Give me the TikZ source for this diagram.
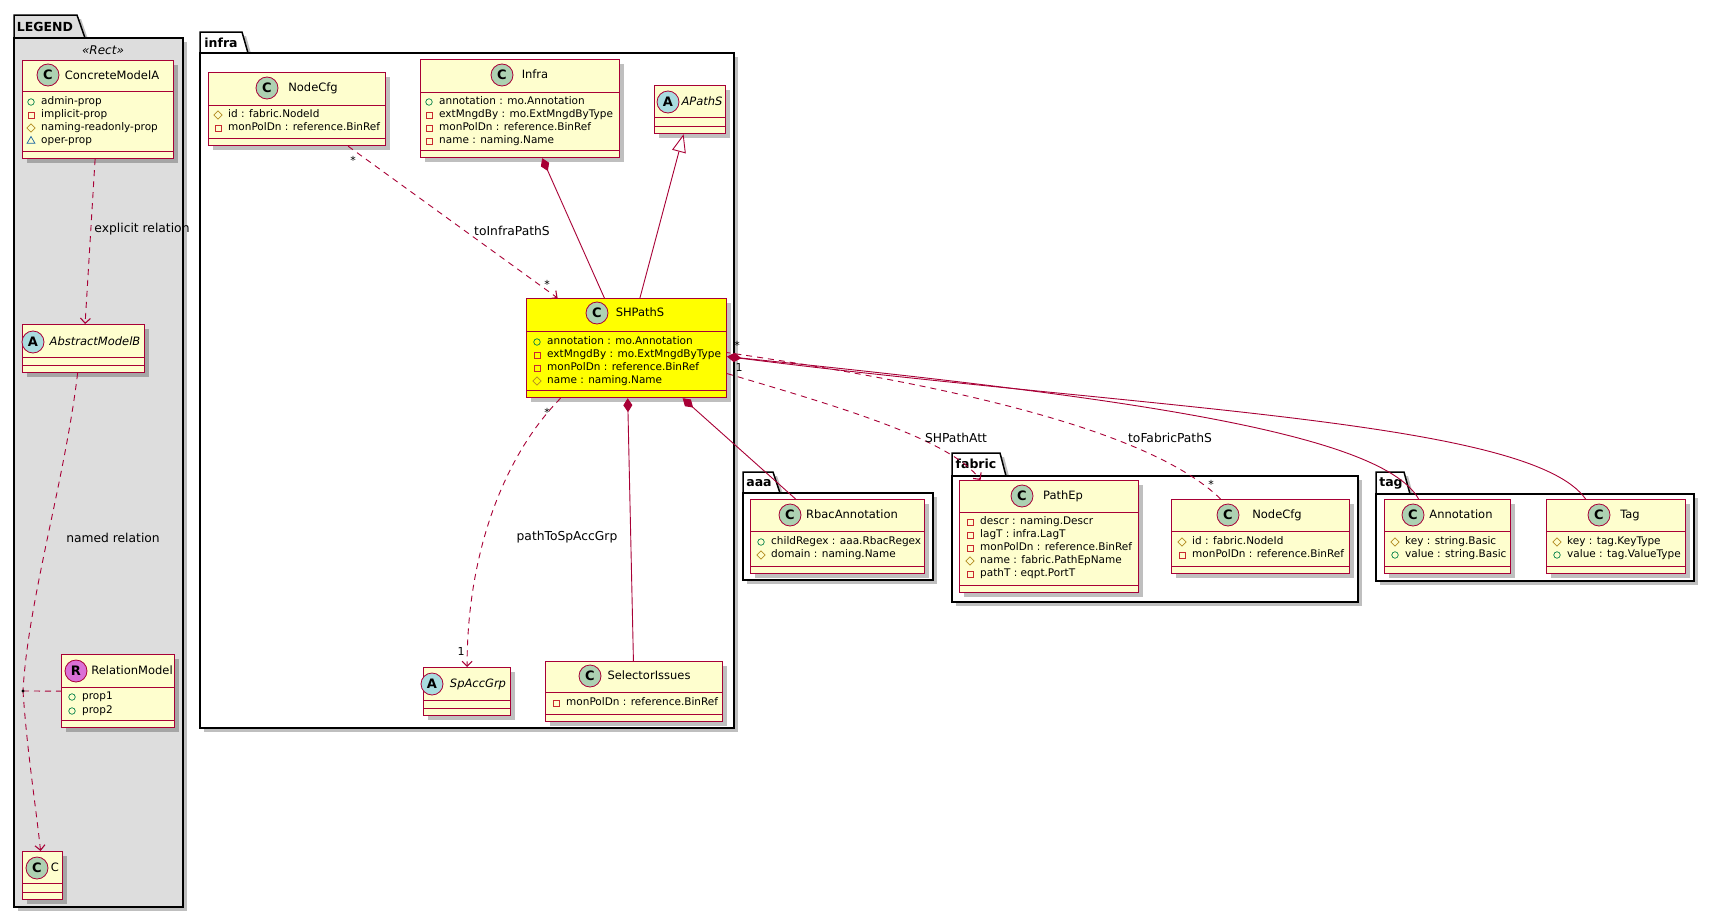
\documentclass[tikz,border=0pt]{standalone}
\usepackage{fontspec}
\setmainfont{DejaVu Sans}
\usetikzlibrary{arrows.meta,shapes.geometric,shadows}

\definecolor{umlred}{HTML}{A80036}
\definecolor{classfill}{HTML}{FEFECE}
\definecolor{hilite}{HTML}{FFFF00}
\definecolor{spotC}{HTML}{ADD1B2}
\definecolor{spotA}{HTML}{A9DCDF}
\definecolor{spotR}{HTML}{DA70D6}
\definecolor{legendgray}{HTML}{DDDDDD}
\definecolor{visgreen}{HTML}{038048}
\definecolor{visred}{HTML}{C82930}
\definecolor{visgold}{HTML}{B38D22}
\definecolor{visblue}{HTML}{1963A0}

\tikzset{
  umlshadow/.style={drop shadow={shadow xshift=4pt, shadow yshift=-4pt, fill=black, opacity=0.25}},
  pkgbox/.style={draw=black, line width=1.5pt, umlshadow},
  pkglabel/.style={font=\fontsize{12.5}{14}\selectfont\bfseries, inner sep=0pt},
  stereo/.style={font=\fontsize{12}{14}\selectfont\itshape, inner sep=0pt},
  classbox/.style={draw=umlred, line width=1.2pt, inner sep=0pt, anchor=north west, umlshadow},
  sepline/.style={draw=umlred, line width=1pt},
  spot/.style={circle, draw=umlred, line width=0.8pt, minimum size=22pt, inner sep=0pt,
    font=\fontsize{13}{13}\selectfont\bfseries},
  cname/.style={font=\fontsize{11.5}{13}\selectfont, inner sep=0pt, text height=8.5pt, text depth=2.5pt},
  aname/.style={font=\fontsize{11.5}{13}\selectfont\itshape, inner sep=0pt, text height=8.5pt, text depth=2.5pt},
  attrtext/.style={font=\fontsize{10.5}{12}\selectfont, inner sep=0pt, anchor=west, text height=7.5pt, text depth=2pt},
  vispub/.style={circle, draw=visgreen, line width=0.7pt, minimum size=6.5pt, inner sep=0pt},
  vispriv/.style={rectangle, draw=visred, line width=0.7pt, minimum size=6pt, inner sep=0pt},
  visprot/.style={diamond, draw=visgold, line width=0.7pt, minimum size=8.5pt, inner sep=0pt},
  vispkg/.style={regular polygon, regular polygon sides=3, draw=visblue, line width=0.7pt, minimum size=9pt, inner sep=0pt},
  link/.style={draw=umlred, line width=0.9pt},
  dashlink/.style={link, dash pattern=on 6pt off 5pt},
  dep/.style={dashlink, -{Straight Barb[length=5pt,width=10pt,line width=1.1pt]}},
  comp/.style={link, {Diamond[length=14pt,width=9pt,fill=umlred]}-},
  inherit/.style={link, -{Triangle[open,length=18pt,width=14pt,fill=white]}},
  elabel/.style={font=\fontsize{12.3}{14}\selectfont, inner sep=0pt},
  mult/.style={font=\fontsize{11}{12}\selectfont, inner sep=0pt},
}

% class box: [fill]{name}{x1}{y1}{x2}{y2}{header line}
\newcommand{\umlclass}[7][classfill]{%
  \node[classbox, fill=#1, minimum width={#5pt-#3pt}, minimum height={#6pt-#4pt}] (#2) at (#3,#4) {};
  \draw[sepline] (#3,#7) -- (#5,#7);
  \draw[sepline] (#3,{#6-7}) -- (#5,{#6-7});
}
% attribute line: {name}{x}{y}{visibility}{text}
\newcommand{\umlattr}[5]{%
  \node[vis#4] (#1i) at (#2,#3) {};
  \node[attrtext] (#1) at ({#2+10},#3) {#5};
}

\begin{document}
\begin{tikzpicture}[x=1pt,y=-1pt]
\useasboundingbox (0,0) rectangle (1711,918);

% packages
\filldraw[pkgbox, fill=legendgray] (14,38) -- (14,15) -- (77,15) -- (85,38) -- cycle;
\filldraw[pkgbox, fill=legendgray] (14,38) rectangle (183,907);
\node[pkglabel] (legendLbl) at (45,27) {LEGEND};
\node[stereo] (rectStereo) at (103,50) {«Rect»};

\filldraw[pkgbox, fill=white] (200,53) -- (200,32) -- (242,32) -- (248,53) -- cycle;
\filldraw[pkgbox, fill=white] (200,53) rectangle (734,728);
\node[pkglabel] (infraLbl) at (221,43) {infra};

\filldraw[pkgbox, fill=white] (743,493) -- (743,472) -- (773,472) -- (780,493) -- cycle;
\filldraw[pkgbox, fill=white] (743,493) rectangle (933,580);
\node[pkglabel] (aaaLbl) at (759,483) {aaa};

\filldraw[pkgbox, fill=white] (952,476) -- (952,453) -- (1000,453) -- (1006,476) -- cycle;
\filldraw[pkgbox, fill=white] (952,476) rectangle (1358,602);
\node[pkglabel] (fabricLbl) at (976,464) {fabric};

\filldraw[pkgbox, fill=white] (1376,494) -- (1376,472) -- (1404,472) -- (1410,494) -- cycle;
\filldraw[pkgbox, fill=white] (1376,494) rectangle (1694,581);
\node[pkglabel] (tagLbl) at (1391,483) {tag};

% legend classes
\umlclass{cma}{22}{60}{173}{158}{91}
\node[spot, fill=spotC] (cmaSpot) at (48,75) {C};
\node[cname] (cmaName) at (112,76) {ConcreteModelA};
\umlattr{cmaA1}{31}{102}{pub}{admin-prop}
\umlattr{cmaA2}{31}{115}{priv}{implicit-prop}
\umlattr{cmaA3}{31}{128}{prot}{naming-readonly-prop}
\umlattr{cmaA4}{31}{141}{pkg}{oper-prop}

\umlclass{absB}{22}{324}{144}{372}{357}
\node[spot, fill=spotA] (absBSpot) at (33,342) {A};
\node[aname] (absBName) at (95,342) {AbstractModelB};

\umlclass{relModel}{61}{654}{174}{727}{687}
\node[spot, fill=spotR] (relModelSpot) at (76,671) {R};
\node[cname] (relModelName) at (132,671) {RelationModel};
\umlattr{relModelA1}{72}{697}{pub}{prop1}
\umlattr{relModelA2}{72}{711}{pub}{prop2}

\umlclass{cc}{22}{851}{62}{899}{883}
\node[spot, fill=spotC] (ccSpot) at (37,868) {C};
\node[cname] (ccName) at (55,868) {C};

% infra classes
\umlclass{nodecfgI}{208}{72}{385}{145}{105}
\node[spot, fill=spotC] (nodecfgISpot) at (267,88) {C};
\node[cname] (nodecfgIName) at (313,88) {NodeCfg};
\umlattr{nodecfgIA1}{218}{115}{prot}{id : fabric.NodeId}
\umlattr{nodecfgIA2}{218}{128}{priv}{monPolDn : reference.BinRef}

\umlclass{infra}{420}{59}{619}{157}{92}
\node[spot, fill=spotC] (infraSpot) at (502,75) {C};
\node[cname] (infraName) at (535,75) {Infra};
\umlattr{infraA1}{429}{102}{pub}{annotation : mo.Annotation}
\umlattr{infraA2}{429}{115}{priv}{extMngdBy : mo.ExtMngdByType}
\umlattr{infraA3}{429}{128}{priv}{monPolDn : reference.BinRef}
\umlattr{infraA4}{429}{141}{priv}{name : naming.Name}

\umlclass{apaths}{654}{85}{725}{133}{117}
\node[spot, fill=spotA] (apathsSpot) at (668,102) {A};
\node[aname] (apathsName) at (702,102) {APathS};

\umlclass[hilite]{shpaths}{526}{298}{726}{397}{331}
\node[spot, fill=spotC] (shpathsSpot) at (597,313) {C};
\node[cname] (shpathsName) at (640,313) {SHPathS};
\umlattr{shpathsA1}{537}{342}{pub}{annotation : mo.Annotation}
\umlattr{shpathsA2}{537}{355}{priv}{extMngdBy : mo.ExtMngdByType}
\umlattr{shpathsA3}{537}{368}{priv}{monPolDn : reference.BinRef}
\umlattr{shpathsA4}{537}{381}{prot}{name : naming.Name}

\umlclass{spaccgrp}{423}{667}{510}{715}{700}
\node[spot, fill=spotA] (spaccgrpSpot) at (432,684) {A};
\node[aname] (spaccgrpName) at (478,684) {SpAccGrp};

\umlclass{selector}{545}{661}{722}{721}{692}
\node[spot, fill=spotC] (selectorSpot) at (590,676) {C};
\node[cname] (selectorName) at (649,676) {SelectorIssues};
\umlattr{selectorA1}{556}{703}{priv}{monPolDn : reference.BinRef}

% aaa
\umlclass{rbac}{750}{499}{924}{573}{531}
\node[spot, fill=spotC] (rbacSpot) at (790,515) {C};
\node[cname] (rbacName) at (852,515) {RbacAnnotation};
\umlattr{rbacA1}{761}{542}{pub}{childRegex : aaa.RbacRegex}
\umlattr{rbacA2}{761}{555}{prot}{domain : naming.Name}

% fabric
\umlclass{pathep}{959}{480}{1138}{592}{512}
\node[spot, fill=spotC] (pathepSpot) at (1022,496) {C};
\node[cname] (pathepName) at (1063,496) {PathEp};
\umlattr{pathepA1}{970}{522}{priv}{descr : naming.Descr}
\umlattr{pathepA2}{970}{535}{priv}{lagT : infra.LagT}
\umlattr{pathepA3}{970}{548}{priv}{monPolDn : reference.BinRef}
\umlattr{pathepA4}{970}{561}{prot}{name : fabric.PathEpName}
\umlattr{pathepA5}{970}{574}{priv}{pathT : eqpt.PortT}

\umlclass{nodecfgF}{1171}{499}{1349}{573}{531}
\node[spot, fill=spotC] (nodecfgFSpot) at (1228,515) {C};
\node[cname] (nodecfgFName) at (1277,515) {NodeCfg};
\umlattr{nodecfgFA1}{1182}{542}{prot}{id : fabric.NodeId}
\umlattr{nodecfgFA2}{1182}{555}{priv}{monPolDn : reference.BinRef}

% tag
\umlclass{annot}{1384}{499}{1510}{573}{531}
\node[spot, fill=spotC] (annotSpot) at (1413,515) {C};
\node[cname] (annotName) at (1461,515) {Annotation};
\umlattr{annotA1}{1395}{542}{prot}{key : string.Basic}
\umlattr{annotA2}{1395}{555}{pub}{value : string.Basic}

\umlclass{tagc}{1546}{499}{1685}{573}{531}
\node[spot, fill=spotC] (tagcSpot) at (1599,515) {C};
\node[cname] (tagcName) at (1630,515) {Tag};
\umlattr{tagcA1}{1557}{542}{prot}{key : tag.KeyType}
\umlattr{tagcA2}{1557}{555}{pub}{value : tag.ValueType}

% legend relations
\draw[dep] (cma) -- (absB);
\node[elabel] (explicitLbl) at (142,229) {explicit relation};
\coordinate (relDot) at (23,691);
\draw[dashlink] ([xshift=-6pt]absB.south) .. controls (65,480) and (28,600) .. (relDot);
\draw[dep] (relDot) .. controls (27,750) and (35,800) .. ([xshift=-2pt]cc.north);
\draw[dashlink] (relDot) -- (relModel.west);
\fill[black] (relDot) circle (1.7);
\node[elabel] (namedLbl) at (113,538) {named relation};

% infra relations
\draw[dep] (nodecfgI) -- (shpaths);
\node[mult] (mult1) at (353,160) {*};
\node[mult] (mult2) at (547,284) {*};
\node[elabel] (toInfraLbl) at (512,231) {toInfraPathS};
\draw[comp] (infra) -- (shpaths);
\draw[inherit] (shpaths) -- (apaths);
\draw[dep] ([xshift=-66pt]shpaths.south) .. controls (500,460) and (467,560) .. (spaccgrp.north);
\node[mult] (mult3) at (547,412) {*};
\node[mult] (mult4) at (461,651) {1};
\node[elabel] (pathToLbl) at (567,537) {pathToSpAccGrp};
\draw[comp] (shpaths) -- (selector);
\draw[comp] (shpaths) -- (rbac);

% fabric relations
\draw[dep] ([yshift=-25.5pt]shpaths.east) .. controls (850,410) and (950,440) .. ([xshift=-68.5pt]pathep.north);
\node[elabel] (shpathAttLbl) at (956,438) {SHPathAtt};
\draw[dashlink] ([xshift=-40pt]nodecfgF.north) .. controls (1150,430) and (950,385) .. ([yshift=-4.5pt]shpaths.east);
\node[mult] (mult5) at (1211,484) {*};
\node[mult] (mult6) at (737,345) {*};
\node[elabel] (toFabricLbl) at (1170,438) {toFabricPathS};

% tag relations
\draw[comp] ([yshift=-8.5pt]shpaths.east) .. controls (1100,395) and (1380,430) .. ([xshift=-29pt]annot.north);
\draw[comp] ([yshift=-8.5pt]shpaths.east) .. controls (1150,410) and (1530,420) .. ([xshift=-30.5pt]tagc.north);
\node[mult] (mult7) at (739,367) {1};
\end{tikzpicture}
\end{document}
